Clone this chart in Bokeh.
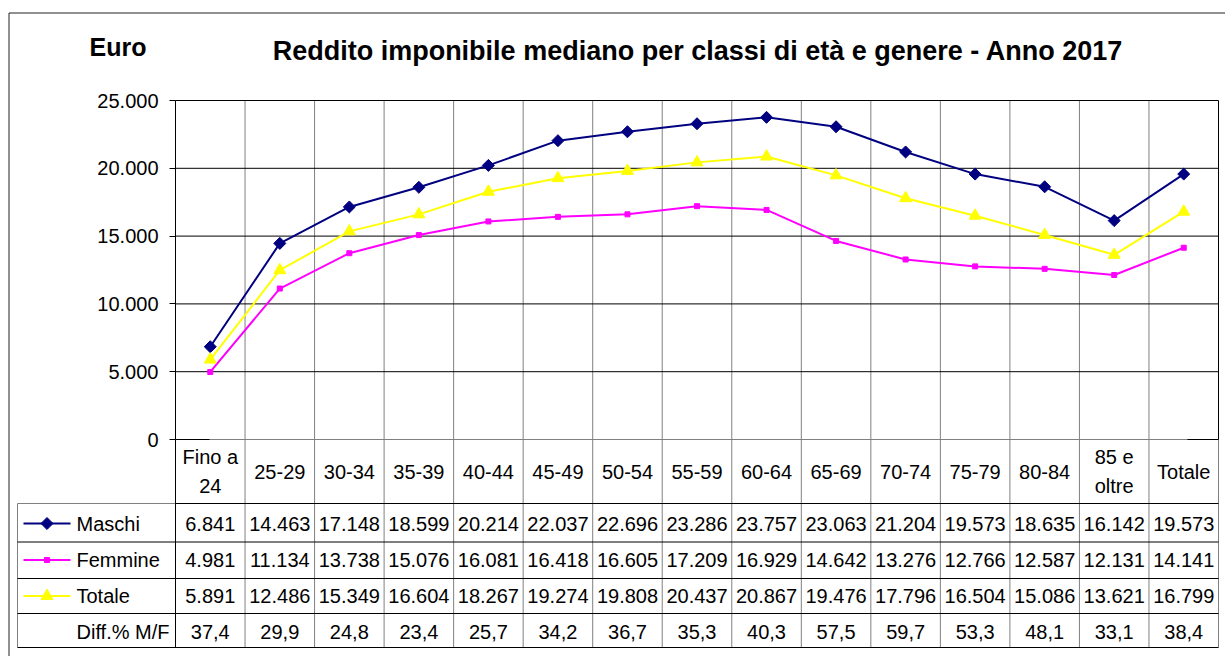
import math
from bokeh.plotting import figure
from bokeh.models import Range1d, LinearAxis, FixedTicker, ColumnDataSource
from bokeh.core.properties import value
from bokeh.embed import file_html
from bokeh.resources import INLINE

# ---------------- data ----------------
categories = ["Fino a\n24", "25-29", "30-34", "35-39", "40-44", "45-49", "50-54", "55-59",
              "60-64", "65-69", "70-74", "75-79", "80-84", "85 e\noltre", "Totale"]
maschi = [6841, 14463, 17148, 18599, 20214, 22037, 22696, 23286, 23757, 23063, 21204,
          19573, 18635, 16142, 19573]
femmine = [4981, 11134, 13738, 15076, 16081, 16418, 16605, 17209, 16929, 14642, 13276,
           12766, 12587, 12131, 14141]
totale = [5891, 12486, 15349, 16604, 18267, 19274, 19808, 20437, 20867, 19476, 17796,
          16504, 15086, 13621, 16799]
diff_mf = [37.4, 29.9, 24.8, 23.4, 25.7, 34.2, 36.7, 35.3, 40.3, 57.5, 59.7, 53.3, 48.1,
           33.1, 38.4]
series_names = ["Maschi", "Femmine", "Totale"]
diff_name = "Diff.% M/F"
y_ticks = [0, 5000, 10000, 15000, 20000, 25000]
y_tick_labels = ["0", "5.000", "10.000", "15.000", "20.000", "25.000"]
title_text = "Reddito imponibile mediano per classi di età e genere - Anno 2017"
unit_text = "Euro"

# ---------------- layout helpers (page pixels -> data units) ----------------
W, H = 1225, 656
N = len(categories)
FL, FR, FT, FB = 175, 1218, 100, 439
YMAX = y_ticks[-1]
PXX = (FR - FL) / N
PXY = (FB - FT) / YMAX


def dx(px):
    return -0.5 + (px - FL) / PXX


def dy(py):
    return (FB - py) / PXY


FONT = "Liberation Sans"
idx = list(range(N))
X0, X1 = -0.5, N - 0.5

p = figure(width=W, height=H, x_range=Range1d(dx(0), dx(W)), y_range=Range1d(dy(H), dy(0)),
           x_axis_type=None, y_axis_type=None, output_backend="svg", toolbar_location=None,
           min_border=0, min_border_left=0, min_border_right=0, min_border_top=0,
           min_border_bottom=0, outline_line_color=None,
           background_fill_color="white", border_fill_color="white")

yaxis = LinearAxis(ticker=FixedTicker(ticks=y_ticks), fixed_location=X0, bounds=(0, YMAX),
                   major_label_overrides={t: l for t, l in zip(y_ticks, y_tick_labels)},
                   major_label_text_font=FONT, major_label_text_font_size="20px",
                   major_label_text_color="black",
                   major_tick_out=6, major_tick_in=0, minor_tick_line_color=None,
                   axis_line_color="black", major_tick_line_color="black",
                   major_label_standoff=11)
p.add_layout(yaxis, "left")


def segs(color, s, width=1):
    x0, y0, x1, y1 = zip(*s)
    src = ColumnDataSource(dict(x0=list(x0), y0=list(y0), x1=list(x1), y1=list(y1)))
    p.segment("x0", "y0", "x1", "y1", source=src, line_color=color, line_width=width)


GRAY = "#808080"
tb = dy(647)
# vertical category boundaries (plot + table)
gray_segs = [(i + 0.5, YMAX, i + 0.5, tb) for i in range(N - 1)]
gray_segs += [(X0, 0, X1, 0),
              (X1, 0, X1, tb),
              (dx(17), dy(503), dx(17), tb),
              (dx(17), dy(503), X0, dy(503))]
segs(GRAY, gray_segs)

black_segs = [(X0, t, X1, t) for t in y_ticks[1:]]          # horizontal gridlines
black_segs += [(X1, YMAX, X1, 0),
               (X0, 0, X0, tb),
               (X0, dy(503), X1, dy(503)),
               (X0, 0, dx(209), 0),
               (dx(1187), 0, X1, 0)]
for ry in [541.5, 578, 613, 647]:
    black_segs.append((dx(17), dy(ry), X1, dy(ry)))
segs("black", black_segs)

# outer frame (top and left edges visible)
segs("#222222", [(dx(8.5), dy(12.5), dx(W), dy(12.5)), (dx(8.5), dy(12.5), dx(8.5), dy(H))])

# ---------------- series ----------------
styles = [
    (maschi, "#000080", dict(marker="square", angle=math.pi / 4, size=8.5)),
    (femmine, "#FF00FF", dict(marker="square", size=5)),
    (totale, "#FFFF00", dict(marker="triangle", size=12)),
]
row_centers = [523, 559.5, 595.5]
for name, (vals, col, mk), rc in zip(series_names, styles, row_centers):
    src = ColumnDataSource(dict(x=idx, y=vals))
    p.line("x", "y", source=src, line_color=col, line_width=2)
    p.scatter("x", "y", source=src, fill_color=col, line_color=col, **mk)
    # legend key inside the data table
    p.line([dx(23), dx(70)], [dy(rc), dy(rc)], line_color=col, line_width=2)
    p.scatter([dx(46.5)], [dy(rc)], fill_color=col, line_color=col, **mk)
    p.text([dx(76)], [dy(rc)], text=[name], text_align="left", text_baseline="middle",
           text_font=value(FONT), text_font_size=value("20px"), text_color="black")

p.text([dx(76)], [dy(631)], text=[diff_name], text_align="left", text_baseline="middle",
       text_font=value(FONT), text_font_size=value("20px"), text_color="black")


# ---------------- table text ----------------
def fmt_int(v):
    return f"{v:,}".replace(",", ".")


def fmt_pct(v):
    return f"{v:.1f}".replace(".", ",")


rows = [
    (471, categories),
    (523, [fmt_int(v) for v in maschi]),
    (559.5, [fmt_int(v) for v in femmine]),
    (595.5, [fmt_int(v) for v in totale]),
    (631, [fmt_pct(v) for v in diff_mf]),
]
for ry, texts in rows:
    src = ColumnDataSource(dict(x=idx, y=[dy(ry)] * N, t=texts))
    p.text("x", "y", text="t", source=src, text_align="center", text_baseline="middle",
           text_font=value(FONT), text_font_size=value("20px"), text_color="black",
           text_line_height=1.3)

# ---------------- titles ----------------
p.text([dx(697.5)], [dy(50)], text=[title_text], text_align="center", text_baseline="middle",
       text_font=value(FONT), text_font_size=value("27px"), text_font_style="bold",
       text_color="black")
p.text([dx(117.5)], [dy(46)], text=[unit_text], text_align="center", text_baseline="middle",
       text_font=value(FONT), text_font_size=value("25px"), text_font_style="bold",
       text_color="black")

open("out.html", "w").write(file_html(p, INLINE))
